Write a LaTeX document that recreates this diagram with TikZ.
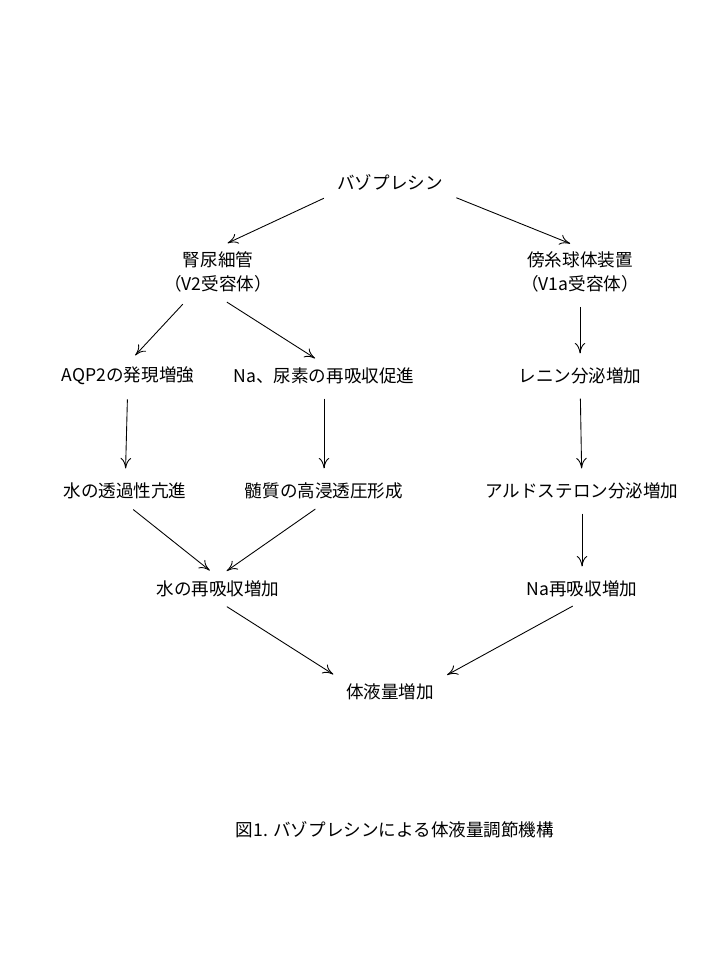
\documentclass[tikz,border=0pt]{standalone}
\usepackage{fontspec}
\setmainfont{Noto Sans CJK JP}
\usetikzlibrary{arrows.meta}
\tikzset{
  box/.style={inner sep=2pt, font=\fontsize{10}{14}\selectfont, align=center},
  arr/.style={-{To[length=6pt,width=6pt]}, line width=0.5pt, shorten <=6pt, shorten >=6pt}
}
\begin{document}
\begin{tikzpicture}[x=0.02cm, y=-0.02cm]
  \useasboundingbox (0,0) rectangle (720,960);

  \node[box] (vp)  at (390,182) {バゾプレシン};
  \node[box] (kid) at (218,272) {腎尿細管\\（V2受容体）};
  \node[box] (jga) at (580,272) {傍糸球体装置\\（V1a受容体）};
  \node[box] (aqp) at (128,376) {AQP2の発現増強};
  \node[box] (na)  at (324,376) {Na、尿素の再吸収促進};
  \node[box] (ren) at (580,376) {レニン分泌増加};
  \node[box] (wp)  at (125,491) {水の透過性亢進};
  \node[box] (med) at (324,491) {髄質の高浸透圧形成};
  \node[box] (ald) at (582,491) {アルドステロン分泌増加};
  \node[box] (wr)  at (218,589) {水の再吸収増加};
  \node[box] (nar) at (582,589) {Na再吸収増加};
  \node[box] (vol) at (390,692) {体液量増加};
  \node[box] (cap) at (395,830) {図1.  バゾプレシンによる体液量調節機構};

  \draw[arr] (vp.south west) -- (kid.north);
  \draw[arr] (vp.south east) -- (jga.north);
  \draw[arr] (kid.south) ++(-28,0) coordinate (k1) (k1) -- (aqp.north);
  \draw[arr] (kid.south) -- (na.north);
  \draw[arr] (jga) -- (ren);
  \draw[arr] (aqp) -- (wp);
  \draw[arr] (na) -- (med);
  \draw[arr] (ren) -- (ald);
  \draw[arr] (ald) -- (nar);
  \draw[arr] (wp.south) -- (wr.north);
  \draw[arr] (med.south) -- (wr.north);
  \draw[arr] (wr.south) -- (vol.north west);
  \draw[arr] (nar.south) -- (vol.north east);
\end{tikzpicture}
\end{document}
